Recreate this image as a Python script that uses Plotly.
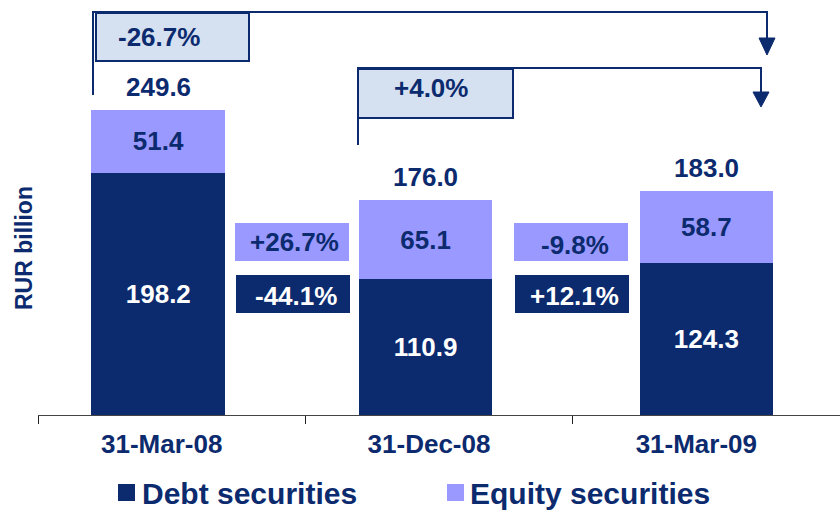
import plotly.graph_objects as go

# ---- data ----
dates = ["31-Mar-08", "31-Dec-08", "31-Mar-09"]
debt = [198.2, 110.9, 124.3]
equity = [51.4, 65.1, 58.7]
totals = [249.6, 176.0, 183.0]
equity_change = ["+26.7%", "-9.8%"]
debt_change = ["-44.1%", "+12.1%"]
total_change = ["-26.7%", "+4.0%"]
series_names = ["Debt securities", "Equity securities"]

NAVY = "#0c2a6e"
LILAC = "#9999ff"
LIGHT = "#d5e1f1"
FONT = "Liberation Sans, Arial, sans-serif"

W, H = 840, 513
L, R, T, B = 38, 0, 0, 98
PW, PH = W - L - R, H - T - B


def PX(x):
    return (x - L) / PW


def PY(y):
    return (H - B - y) / PH


offsets = [-0.30, -0.30, -0.25]
bw = 0.5

fig = go.Figure()
fig.add_trace(go.Bar(
    x=dates, y=debt, name=series_names[0], marker_color=NAVY, marker_line_width=0,
    offset=offsets, width=bw, texttemplate="%{y:.1f}", textposition="inside",
    insidetextanchor="middle", textangle=0, constraintext="none",
    insidetextfont=dict(color="white", size=26, family=FONT, weight="bold"),
    showlegend=False, hoverinfo="skip"))
fig.add_trace(go.Bar(
    x=dates, y=equity, name=series_names[1], marker_color=LILAC, marker_line_width=0,
    offset=offsets, width=bw, texttemplate="%{y:.1f}", textposition="inside",
    insidetextanchor="middle", textangle=0, constraintext="none",
    insidetextfont=dict(color=NAVY, size=26, family=FONT, weight="bold"),
    showlegend=False, hoverinfo="skip"))

ann = []
shapes = []

# totals above bars
for i, t in enumerate(totals):
    ann.append(dict(x=i + offsets[i] + bw / 2, y=t, xref="x", yref="y", text=f"{t:.1f}",
                    showarrow=False, xanchor="center", yanchor="middle", yshift=23,
                    font=dict(size=26, color=NAVY, family=FONT, weight="bold")))

# change boxes between bars
eq_boxes = [(235, 223, 349, 261, 294, 242), (514, 223, 628, 261, 575, 245)]
dt_boxes = [(236, 275, 350, 313, 296, 296), (515, 275, 629, 313, 574, 296)]
for (x0, y0, x1, y1, tx, ty), lab in zip(eq_boxes, equity_change):
    shapes.append(dict(type="rect", xref="paper", yref="paper", x0=PX(x0), x1=PX(x1),
                       y0=PY(y1), y1=PY(y0), fillcolor=LILAC, line_width=0, layer="below"))
    ann.append(dict(x=PX(tx), y=PY(ty), xref="paper", yref="paper", text=lab, showarrow=False,
                    xanchor="center", yanchor="middle",
                    font=dict(size=26, color=NAVY, family=FONT, weight="bold")))
for (x0, y0, x1, y1, tx, ty), lab in zip(dt_boxes, debt_change):
    shapes.append(dict(type="rect", xref="paper", yref="paper", x0=PX(x0), x1=PX(x1),
                       y0=PY(y1), y1=PY(y0), fillcolor=NAVY, line_width=0, layer="below"))
    ann.append(dict(x=PX(tx), y=PY(ty), xref="paper", yref="paper", text=lab, showarrow=False,
                    xanchor="center", yanchor="middle",
                    font=dict(size=26, color="white", family=FONT, weight="bold")))

# brackets with arrows
brackets = [
    dict(xl=93, ybot=95, ytop=12, xr=767, yarr=38, ytip=55, box=(96, 13, 249, 61), txt=(159, 37)),
    dict(xl=358, ybot=145, ytop=68, xr=761, yarr=92, ytip=107, box=(358, 69, 513, 118), txt=(431, 88)),
]
for b, lab in zip(brackets, total_change):
    path = (f"M {PX(b['xl'])},{PY(b['ybot'])} L {PX(b['xl'])},{PY(b['ytop'])} "
            f"L {PX(b['xr'])},{PY(b['ytop'])} L {PX(b['xr'])},{PY(b['yarr'])}")
    shapes.append(dict(type="path", xref="paper", yref="paper", path=path,
                       line=dict(color=NAVY, width=2)))
    tri = (f"M {PX(b['xr'] - 8)},{PY(b['yarr'])} L {PX(b['xr'] + 8)},{PY(b['yarr'])} "
           f"L {PX(b['xr'])},{PY(b['ytip'])} Z")
    shapes.append(dict(type="path", xref="paper", yref="paper", path=tri,
                       fillcolor=NAVY, line=dict(color=NAVY, width=1)))
    x0, y0, x1, y1 = b["box"]
    shapes.append(dict(type="rect", xref="paper", yref="paper", x0=PX(x0), x1=PX(x1),
                       y0=PY(y1), y1=PY(y0), fillcolor=LIGHT, line=dict(color=NAVY, width=2)))
    ann.append(dict(x=PX(b["txt"][0]), y=PY(b["txt"][1]), xref="paper", yref="paper", text=lab,
                    showarrow=False, xanchor="center", yanchor="middle",
                    font=dict(size=26, color=NAVY, family=FONT, weight="bold")))

# y title
ann.append(dict(x=PX(24), y=PY(248), xref="paper", yref="paper", text="RUR billion",
                textangle=-90, showarrow=False, xanchor="center", yanchor="middle",
                font=dict(size=23, color=NAVY, family=FONT, weight="bold")))

# manual legend
leg = [(118, NAVY, 140), (447, LILAC, 468)]
for (sx, col, tx), name in zip(leg, series_names):
    shapes.append(dict(type="rect", xref="paper", yref="paper", x0=PX(sx), x1=PX(sx + 17),
                       y0=PY(501), y1=PY(484), fillcolor=col, line_width=0))
    ann.append(dict(x=PX(tx), y=PY(494), xref="paper", yref="paper", text=name,
                    xanchor="left", yanchor="middle", showarrow=False,
                    font=dict(size=30, color=NAVY, family=FONT, weight="bold")))

ymax = PH / 1.222
fig.update_layout(
    width=W, height=H, barmode="stack", plot_bgcolor="white", paper_bgcolor="white",
    margin=dict(l=L, r=R, t=T, b=B, autoexpand=False),
    showlegend=False, annotations=ann, shapes=shapes,
    xaxis=dict(type="category", range=[-0.5, 2.5], showline=True, linecolor="#444",
               linewidth=1, ticks="outside", tickson="boundaries", ticklen=8, tickcolor="#222",
               tickfont=dict(size=26, color=NAVY, family=FONT, weight="bold"),
               ticklabelshift=-10, ticklabelstandoff=6, showgrid=False, fixedrange=True),
    yaxis=dict(range=[0, ymax], visible=False, showgrid=False, fixedrange=True),
)

fig.write_html("out.html", config={"displayModeBar": False},
               post_script="document.body.style.margin='0';document.body.style.overflow='hidden';")
